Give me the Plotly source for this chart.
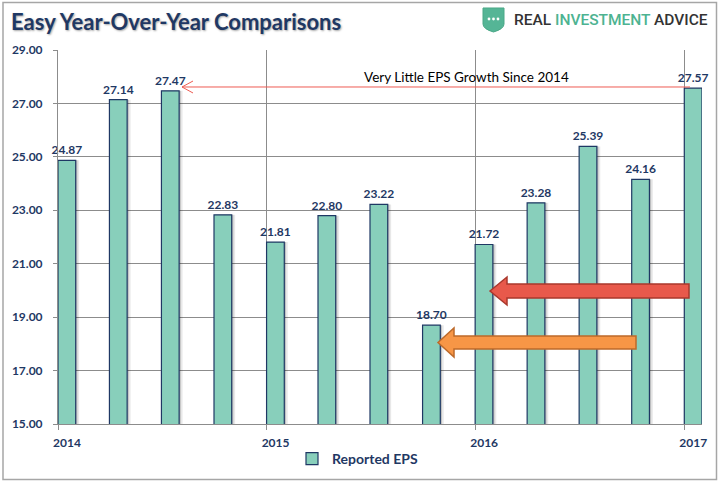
import plotly.graph_objects as go

# ---------------- data ----------------
quarters = ["2014-01-01", "2014-04-01", "2014-07-01", "2014-10-01",
            "2015-01-01", "2015-04-01", "2015-07-01", "2015-10-01",
            "2016-01-01", "2016-04-01", "2016-07-01", "2016-10-01",
            "2017-01-01"]
eps = [24.87, 27.14, 27.47, 22.83, 21.81, 22.80, 23.22, 18.70,
       21.72, 23.28, 25.39, 24.16, 27.57]
eps_labels = [f"{v:.2f}" for v in eps]

y_tick_vals = [15, 17, 19, 21, 23, 25, 27, 29]
y_tick_text = ["15.00", "17.00", "19.00", "21.00", "23.00", "25.00", "27.00", "29.00"]
x_tick_vals = ["2014-01-01", "2015-01-01", "2016-01-01", "2017-01-01"]
x_tick_text = ["2014", "2015", "2016", "2017"]

series_name = "Reported EPS"
title_text = "Easy Year-Over-Year Comparisons"
note_text = "Very Little EPS Growth Since 2014"

# ---------------- layout geometry ----------------
W, H = 720, 481
L, R, T, B = 58, 18, 50, 57
DAY = 86400000
NAVY = "#1F3864"
GRID = "#8C8C8C"
FONT = "Lato"


def px(x):
    return (x - L) / (W - L - R)


def py(y):
    return (H - B - y) / (H - T - B)


def path(points, close=True):
    s = "M " + " L ".join(f"{px(a):.5f},{py(b):.5f}" for a, b in points)
    return s + (" Z" if close else "")


fig = go.Figure()

# bar shadows
fig.add_trace(go.Bar(x=quarters, y=eps, offset=6 * DAY, width=31 * DAY,
                     marker=dict(color="rgba(0,0,0,0.09)", line=dict(width=0)),
                     showlegend=False, hoverinfo="skip"))
fig.add_trace(go.Bar(x=quarters, y=eps, offset=3 * DAY, width=31 * DAY,
                     marker=dict(color="rgba(0,0,0,0.16)", line=dict(width=0)),
                     showlegend=False, hoverinfo="skip"))
# main bars
fig.add_trace(go.Bar(x=quarters, y=eps, offset=0, width=31 * DAY,
                     name=series_name,
                     marker=dict(color="#88CFBB", line=dict(color=NAVY, width=1.2)),
                     text=eps_labels, textposition="outside", constraintext="none",
                     textfont=dict(family=FONT, size=12, color=NAVY, weight="bold"),
                     cliponaxis=False))

shapes = []
# outer border
shapes.append(dict(type="rect", xref="paper", yref="paper",
                   x0=px(3), x1=px(716.5), y0=py(479.5), y1=py(2.5),
                   line=dict(color="#A6A6A6", width=1.5), fillcolor="rgba(0,0,0,0)",
                   layer="below"))
# thin red arrow
shapes.append(dict(type="path", xref="paper", yref="paper",
                   path=path([(690, 87), (182, 87)], close=False),
                   line=dict(color="#EE5B52", width=1)))
shapes.append(dict(type="path", xref="paper", yref="paper",
                   path=path([(193, 81), (182, 87), (193, 93)], close=False),
                   line=dict(color="#EE5B52", width=1)))
# big red arrow
shapes.append(dict(type="path", xref="paper", yref="paper",
                   path=path([(490, 291), (507, 277), (507, 284), (689, 284),
                              (689, 298), (507, 298), (507, 305)]),
                   fillcolor="#E8594B", line=dict(color="#A9382C", width=1.5)))
# big orange arrow
shapes.append(dict(type="path", xref="paper", yref="paper",
                   path=path([(438, 342.5), (454, 328), (454, 336), (636, 336),
                              (636, 349), (454, 349), (454, 357)]),
                   fillcolor="#F79646", line=dict(color="#BD6A2A", width=1.5)))
# logo shield
sx0, sx1, sy0, sy1 = 483, 504, 8, 32
mid = (sx0 + sx1) / 2
shield = (f"M {px(sx0):.5f},{py(sy0):.5f} L {px(sx1):.5f},{py(sy0):.5f} "
          f"L {px(sx1):.5f},{py(24):.5f} Q {px(sx1):.5f},{py(29):.5f} {px(mid):.5f},{py(sy1):.5f} "
          f"Q {px(sx0):.5f},{py(29):.5f} {px(sx0):.5f},{py(24):.5f} Z")
shapes.append(dict(type="path", xref="paper", yref="paper", path=shield,
                   fillcolor="#55B596", line=dict(color="#4AA887", width=1)))
for dx in (-4.5, 0, 4.5):
    cx, cy = mid + dx, 19
    shapes.append(dict(type="circle", xref="paper", yref="paper",
                       x0=px(cx - 1.4), x1=px(cx + 1.4), y0=py(cy + 1.4), y1=py(cy - 1.4),
                       fillcolor="white", line=dict(width=0)))

annotations = [
    dict(text=title_text, xref="paper", yref="paper", x=px(9), y=py(22),
         xanchor="left", yanchor="middle", showarrow=False,
         font=dict(family=FONT, size=22, color=NAVY, weight="bold",
                   shadow="1px 1px 2px rgba(0,0,0,0.35)")),
    dict(text=("<span style='color:#333333'>REAL </span>"
               "<span style='color:#4DB391'>INVESTMENT</span>"
               "<span style='color:#333333'> ADVICE</span>"),
         xref="paper", yref="paper", x=px(710), y=py(20),
         xanchor="right", yanchor="middle", showarrow=False,
         font=dict(family="Roboto", size=15.5, weight=500)),
    dict(text=note_text, xref="paper", yref="paper", x=px(466), y=py(77),
         xanchor="center", yanchor="middle", showarrow=False,
         font=dict(family=FONT, size=13.5, color="#000000")),
]

fig.update_layout(
    width=W, height=H,
    margin=dict(l=L, r=R, t=T, b=B, autoexpand=False),
    paper_bgcolor="white", plot_bgcolor="white",
    barmode="overlay",
    showlegend=True,
    legend=dict(orientation="h", x=px(292), y=py(459), xanchor="left", yanchor="middle",
                font=dict(family=FONT, size=14, color=NAVY, weight="bold"),
                bgcolor="rgba(0,0,0,0)"),
    shapes=shapes,
    annotations=annotations,
    xaxis=dict(type="date", range=["2014-01-01", "2017-02-01"],
               tickmode="array", tickvals=x_tick_vals, ticktext=x_tick_text,
               ticks="outside", ticklen=5, tickcolor=GRID,
               showgrid=True, gridcolor=GRID, gridwidth=1,
               showline=True, linecolor=GRID, linewidth=1,
               zeroline=False, ticklabelshift=9, ticklabelstandoff=3,
               tickfont=dict(family=FONT, size=12, color=NAVY, weight="bold")),
    yaxis=dict(range=[15, 29], tickmode="array", tickvals=y_tick_vals, ticktext=y_tick_text,
               ticks="outside", ticklen=4, tickcolor=GRID, ticklabelstandoff=8,
               showgrid=True, gridcolor=GRID, gridwidth=1,
               showline=True, linecolor=GRID, linewidth=1, zeroline=False,
               tickfont=dict(family=FONT, size=12, color=NAVY, weight="bold")),
)

fig.write_html("out.html", config={"displayModeBar": False},
               post_script="document.body.style.margin='0px';document.body.style.overflow='hidden';")
